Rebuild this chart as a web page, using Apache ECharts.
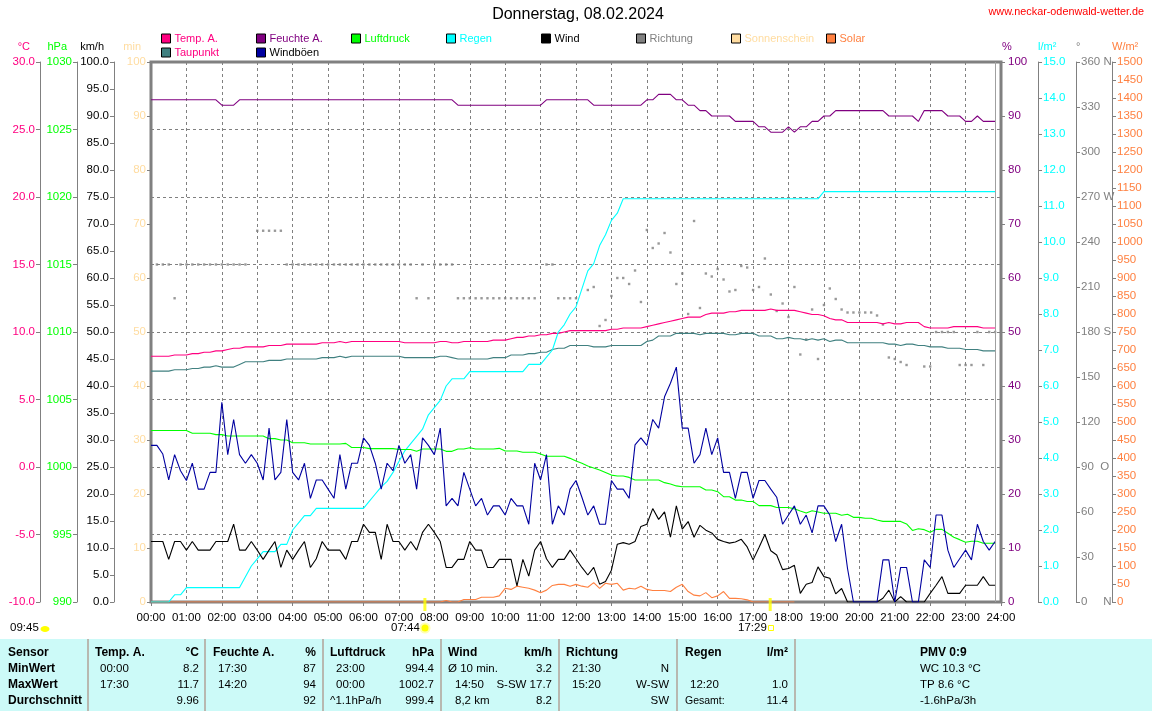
<!DOCTYPE html>
<html><head><meta charset="utf-8">
<style>html,body{margin:0;padding:0;background:#fff}#c{width:1152px;height:711px}</style>
<script src="https://cdn.jsdelivr.net/npm/echarts@6/dist/echarts.min.js"></script>
</head><body><div id="c"></div>
<script>
// ten-minute samples 00:00 .. 23:50
const humidity = [93,93,93,93,93,93,93,93,93,93, 93,93,92,92,92,93,93,93,93,93, 93,93,93,93,93,93,93,93,93,93, 93,93,93,93,93,93,93,93,93,93, 93,93,93,93,93,93,93,93,93,93, 93,93,92,92,92,92,92,92,92,92, 92,92,92,92,92,92,92,93,93,93, 93,93,93,93,93,92,92,92,92,92, 92,92,92,92,93,93,94,94,94,93, 93,92,92,91,91,90,90,90,90,89, 89,89,89,88,88,87,87,87,88,87, 88,88,89,89,90,90,91,91,91,91, 91,91,91,91,91,90,90,90,90,90, 89,91,91,91,91,90,90,90,89,89, 90,89,89,89];
const tempOut = [8.2,8.2,8.2,8.2,8.3,8.3,8.3,8.4,8.4,8.5, 8.5,8.6,8.6,8.7,8.8,8.8,8.9,8.9,8.9,8.9, 9,9,9,9.1,9.1,9.1,9.1,9.1,9.1,9.2, 9.2,9.2,9.3,9.2,9.3,9.3,9.3,9.3,9.3,9.3, 9.3,9.3,9.3,9.2,9.2,9.2,9.2,9.2,9.2,9.3, 9.3,9.2,9.2,9.3,9.3,9.3,9.3,9.3,9.4,9.4, 9.4,9.5,9.6,9.6,9.7,9.7,9.8,9.8,9.9,9.9, 10,10.1,10.1,10.1,10.1,10.1,10.1,10.1,10.2,10.2, 10.3,10.3,10.3,10.3,10.4,10.5,10.6,10.7,10.8,10.9, 11,11.1,11.1,11.1,11.3,11.4,11.4,11.4,11.5,11.5, 11.6,11.6,11.6,11.6,11.6,11.7,11.6,11.6,11.6,11.6, 11.5,11.4,11.3,11.3,11.2,11,10.9,10.9,10.7,10.7, 10.7,10.7,10.7,10.7,10.6,10.7,10.6,10.6,10.7,10.7, 10.7,10.4,10.3,10.3,10.3,10.3,10.4,10.4,10.4,10.4, 10.4,10.3,10.3,10.3];
const dewPoint = [7.1,7.1,7.1,7.1,7.2,7.2,7.2,7.3,7.3,7.4, 7.4,7.5,7.4,7.4,7.4,7.6,7.8,7.8,7.8,7.8, 7.9,7.9,7.9,8,8,8,8,8,8,8.1, 8.1,8.1,8.2,8.1,8.2,8.2,8.2,8.2,8.2,8.2, 8.2,8.2,8.2,8.1,8.1,8.1,8.1,8.1,8.1,8.2, 8.2,8.1,8,8,8,8,8,8,8.1,8.1, 8.1,8.3,8.3,8.3,8.4,8.4,8.5,8.5,8.7,8.8, 8.8,9,9,9,9,8.9,8.9,8.9,9,9, 9,9,9,9,9.3,9.4,9.7,9.7,9.7,9.9, 9.9,9.9,9.9,9.8,9.9,9.9,9.9,9.9,9.8,9.8, 9.9,9.9,9.9,9.7,9.7,9.7,9.5,9.5,9.6,9.5, 9.5,9.4,9.5,9.4,9.5,9.3,9.4,9.4,9.2,9.2, 9.2,9.2,9.2,9.2,9.2,9.1,9.1,9,9.1,9.1, 9,9,8.9,8.9,8.9,8.8,8.8,8.8,8.7,8.7, 8.7,8.6,8.6,8.6];
const pressure = [1002.7,1002.7,1002.7,1002.7,1002.7,1002.7,1002.7,1002.5,1002.5,1002.5, 1002.5,1002.4,1002.4,1002.3,1002.3,1002.3,1002.3,1002.3,1002.3,1002.3, 1002.1,1002.1,1002,1002,1001.8,1001.8,1001.8,1001.7,1001.7,1001.7, 1001.7,1001.7,1001.7,1001.75,1001.45,1001.45,1001.45,1001.36,1001.36,1001.36, 1001.36,1001.36,1001.3,1001.3,1001.3,1001.16,1001.33,1001.33,1001.33,1001.33, 1001.16,1001.16,1001.33,1001.33,1001.43,1001.33,1001.33,1001.33,1001.33,1001.38, 1001.18,1001.18,1001.18,1001.09,1001.09,1001.09,1000.96,1000.8,1000.8,1000.8, 1000.8,1000.64,1000.44,1000.27,1000.07,999.93,999.78,999.6,999.4,999.33, 999.33,999.23,999.04,999.04,999.04,999.04,999.04,998.84,998.74,998.6, 998.54,998.54,998.54,998.54,998.3,998.3,998.17,997.8,997.8,997.55, 997.55,997.45,997.45,997.14,997.14,997.14,997,997,997,996.9, 996.74,996.6,996.76,996.67,996.57,996.57,996.57,996.42,996.5,996.27, 996.27,996.2,996.2,996.07,995.97,995.97,995.97,995.97,995.78,995.3, 995.43,995.36,995.16,995.38,995.38,995.09,994.8,994.62,994.42,994.5, 994.5,994.35,994.35,994.35];
const rain = [0,0,0,0,0.2,0.2,0.4,0.4,0.4,0.4, 0.4,0.4,0.4,0.4,0.4,0.4,0.7,1,1.2,1.4, 1.4,1.4,1.6,1.6,2,2.2,2.4,2.4,2.6,2.6, 2.6,2.6,2.6,2.6,2.6,2.6,2.6,2.8,3,3.2, 3.35,3.6,3.9,4.2,4.4,4.6,4.8,5.2,5.4,5.6, 6,6.2,6.2,6.2,6.4,6.4,6.4,6.4,6.4,6.4, 6.4,6.4,6.4,6.4,6.6,6.6,6.6,6.8,7,7.5, 7.7,8,8.2,8.7,9.2,9.4,9.9,10.2,10.6,10.8, 11.2,11.2,11.2,11.2,11.2,11.2,11.2,11.2,11.2,11.2, 11.2,11.2,11.2,11.2,11.2,11.2,11.2,11.2,11.2,11.2, 11.2,11.2,11.2,11.2,11.2,11.2,11.2,11.2,11.2,11.2, 11.2,11.2,11.2,11.2,11.4,11.4,11.4,11.4,11.4,11.4, 11.4,11.4,11.4,11.4,11.4,11.4,11.4,11.4,11.4,11.4, 11.4,11.4,11.4,11.4,11.4,11.4,11.4,11.4,11.4,11.4, 11.4,11.4,11.4,11.4];
const wind = [11.2,11.2,11.2,7.9,11.2,11.2,9.6,11.2,9.6,9.6, 9.6,11.2,11.2,11.2,14.4,9.6,9.6,11.2,9.6,7.9, 9.6,11.2,6.4,9.6,7.9,9.6,11.2,6.4,8,11.2, 9.6,9.6,9.6,7.9,11.2,11.2,14.4,12.9,12.9,7.9, 14.4,11.2,11.2,9.6,11.2,9.6,12.9,14.4,12.9,11.2, 6.4,6.4,7.9,7.9,11.2,9.6,9.6,6.4,6.4,7.9, 7.9,7.9,3,7.9,4.8,9.6,11.2,8,6.4,7.9, 7.9,9.6,8,6.4,5,6.4,3.3,3.8,5.9,10.7, 11,10.7,11.2,14,14.4,17.3,15.3,16.7,12,17.8, 13.5,14.9,12,14.2,13.3,12.8,11.6,11.2,10.9,11.1, 11.6,10.2,7.8,10.1,12.5,9.5,8.7,6,6.2,6.8, 1.6,3.3,3.6,6.5,4.7,4.4,1.5,2.5,0,0, 0,0,0,0,0.7,2.2,0,1,0,0, 0,0,1.6,3.1,4.7,1.6,1.6,1.6,3.1,3.1, 3.1,4.7,3.1,3.1];
const gusts = [29,29,27.4,22.6,27.3,24.3,22.5,25.7,20.9,20.9, 24,24,37,27.3,33.8,27.3,25.7,27.3,25.7,22.6, 32.2,22.6,24,33.8,24,22.6,25.7,19.2,22.6,22.6, 20.9,19.2,27.3,20.9,25.7,25.7,30.4,29,25.7,20.9, 25.7,24.3,29,25.7,27.3,20.9,30.4,29,27.3,32.2, 17.8,19.2,17.8,24,20.9,17.8,19.2,16.1,17.8,17.8, 16.1,19.2,17.8,17.8,14.4,25.7,22.6,27.3,14.4,17.8, 16.1,20.9,22.5,19.4,16.1,17.8,14.4,14.4,22.5,20.9, 20.9,19.2,29.1,30.4,29,33.8,32.2,38,40.5,43.5, 32.2,32.2,25.7,27.3,32.2,27.3,30.4,24,24,19.2, 24,24,19.2,22.5,22.5,20.9,19.4,14.4,16.1,17.8, 14.4,16.1,12.8,17.8,17.8,16.1,11.2,14.4,6.2,0, 0,0,0,0,7.8,7.8,0,6.4,6.4,0, 0,7.8,6.4,16.1,16.1,9.6,6.4,8,9.6,7.8, 14.4,11.2,9.6,11.2];
const direction = [null,225,225,225,202.5,225,225,225,225,225, 225,225,225,225,225,225,225,null,247.5,247.5, 247.5,247.5,247.5,225,225,225,225,225,225,225, 225,225,225,225,225,225,225,225,225,225, 225,225,225,225,225,202.5,225,202.5,225,225, 225,225,202.5,202.5,202.5,202.5,202.5,202.5,202.5,202.5, 202.5,202.5,202.5,202.5,202.5,202.5,null,225,225,202.5, 202.5,202.5,202.5,null,208,210,184,188,204,216, 216,212,221,200,248,236,239,246,233,212, 219,192,254,196,219,217,222,215,207,208, 224,223,208,210,229,205,194,199,190,210, 165,175,195,162,198,209,202,195,193,193, 193,193,193,191,185,163,162,160,158,null, null,157,157,180,180,180,180,158,158,158, 180,158,180,180];
const solar = [0,0,0,0,0,0,0,0,0,0, 0,0,0,0,0,0,0,0,0,0, 0,0,0,0,0,0,0,0,0,0, 0,0,0,0,0,0,0,0,0,0, 0,0,0,0,0,0,0,0,0,0, 4,0,0,7,7,7,13,13,13,17, 38,35,44,41,38,33,26,33,46,49, 49,44,49,44,41,54,38,52,49,52, 33,38,36,44,35,32,32,32,29,41, 49,29,19,17,26,12,17,29,10,10, 9,6,0,0,0,0,0,0,0,0];
const sunshine = [];
const sunTimes = [464, 1049];

const titleText = 'Donnerstag, 08.02.2024';
const siteText = 'www.neckar-odenwald-wetter.de';

const tableFirst = ['Sensor','MinWert','MaxWert','Durchschnitt'];
const tableHeads = ['Temp. A.','Feuchte A.','Luftdruck','Wind','Richtung','Regen'];
const tableUnits = ['°C','%','hPa','km/h','','l/m²'];
const tableLefts = [['00:00','17:30',''],['17:30','14:20',''],['23:00','00:00','^1.1hPa/h'],['Ø 10 min.','14:50','8,2 km'],['21:30','15:20',''],['','12:20','Gesamt:']];
const tableVals = [['8.2','11.7','9.96'],['87','94','92'],['994.4','1002.7','999.4'],['3.2','S-SW 17.7','8.2'],['N','W-SW','SW'],['','1.0','11.4']];
const tableLast = ['PMV 0:9','WC 10.3 °C','TP 8.6 °C','-1.6hPa/3h'];

const FONT = '"Liberation Sans", Arial, sans-serif';
const C = {temp:'#FF0080',dew:'#408080',hum:'#800080',pres:'#00FF00',rain:'#00FFFF',wind:'#000000',dir:'#808080',sun:'#FFDCA0',solar:'#FF8040',gust:'#0000A0'};
const AX = '#808080';

const pts = a => a.map((v,i)=>[i*10,v]);
const pad = n => String(n).padStart(2,'0');

function yAxis(o){
  return {
    type:'value', position:o.pos, offset:o.off, min:o.min, max:o.max, interval:o.step,
    name:o.name, nameLocation:'end', nameGap:15,
    nameTextStyle:{color:o.color,fontFamily:FONT,fontSize:11,align:o.pos==='left'?'right':'left',verticalAlign:'middle',padding:o.pos==='left'?[0,10,0,0]:[0,0,0,o.namePad||0]},
    axisLine:{show:true,onZero:false,lineStyle:{color:AX,width:1}},
    axisTick:{show:true,length:4,lineStyle:{color:AX}},
    axisLabel:{color:o.color,fontFamily:FONT,fontSize:11.5,margin:o.margin||5,formatter:o.fmt,hideOverlap:false,showMinLabel:true,showMaxLabel:true},
    splitLine:o.grid?{show:true,lineStyle:{color:AX,width:1,type:[3,3]}}:{show:false}
  };
}
const dirLabels = {0:'0     N',90:'90  O',180:'180 S',270:'270 W',360:'360 N'};

const yAxes = [
  yAxis({pos:'left',off:111,min:-10,max:30,step:5,name:'°C',color:C.temp,fmt:v=>v.toFixed(1),grid:true}),
  yAxis({pos:'left',off:74,min:990,max:1030,step:5,name:'hPa',color:C.pres,fmt:v=>String(v)}),
  yAxis({pos:'left',off:37,min:0,max:100,step:5,name:'km/h',color:'#000',fmt:v=>v.toFixed(1)}),
  yAxis({pos:'left',off:0,min:0,max:100,step:10,name:'min',color:C.sun,fmt:v=>String(v)}),
  yAxis({pos:'right',off:0,min:0,max:100,step:10,name:'%',color:C.hum,namePad:1,margin:7,fmt:v=>String(v)}),
  yAxis({pos:'right',off:37,min:0,max:15,step:1,name:'l/m²',color:C.rain,fmt:v=>v.toFixed(1)}),
  yAxis({pos:'right',off:75,min:0,max:360,step:30,name:'°',color:C.dir,fmt:v=>dirLabels[v]||String(v)}),
  yAxis({pos:'right',off:111,min:0,max:1500,step:50,name:'W/m²',color:C.solar,fmt:v=>String(v)})
];

function line(name,data,y,color,extra){
  return Object.assign({name,type:'line',yAxisIndex:y,data:pts(data),symbol:'none',showSymbol:false,silent:true,animation:false,connectNulls:false,
    lineStyle:{color,width:1.1},itemStyle:{color}},extra||{});
}

const series = [
  line('Sonnenschein',sunshine,3,C.sun),
  line('Solar',solar,7,C.solar),
  {name:'Richtung',type:'scatter',yAxisIndex:6,data:pts(direction).filter(p=>p[1]!==null),symbol:'rect',symbolSize:2.4,itemStyle:{color:C.dir},silent:true,animation:false},
  line('Temp. A.',tempOut,0,C.temp,{markLine:{silent:true,symbol:'none',animation:false,label:{show:false},lineStyle:{color:'#A0A0A0',width:1,type:'solid'},data:[{xAxis:1430}]}}),
  line('Taupunkt',dewPoint,0,C.dew),
  line('Feuchte A.',humidity,4,C.hum),
  line('Regen',rain,5,C.rain),
  line('Luftdruck',pressure,1,C.pres),
  line('Wind',wind,2,C.wind),
  line('Windböen',gusts,2,C.gust),
  {name:'Sonne',type:'scatter',yAxisIndex:2,data:sunTimes.map(t=>[t,0]),symbol:'rect',symbolSize:[3,13],symbolOffset:[0,2.5],clip:false,z:20,itemStyle:{color:'#FFFF00'},silent:true,animation:false}
];

const legendItems = [
  ['Temp. A.',161,33,C.temp,C.temp],['Taupunkt',161,47,C.dew,C.temp],
  ['Feuchte A.',256,33,C.hum,C.hum],['Windböen',256,47,C.gust,'#000'],
  ['Luftdruck',351,33,C.pres,C.pres],['Regen',446,33,C.rain,C.rain],
  ['Wind',541,33,C.wind,'#000'],['Richtung',636,33,C.dir,C.dir],
  ['Sonnenschein',731,33,C.sun,C.sun],['Solar',826,33,C.solar,C.solar]
];
const legends = legendItems.map(l=>({
  show:true,orient:'horizontal',left:l[1],top:l[2],padding:0,selectedMode:false,itemGap:0,itemWidth:9,itemHeight:9,
  textStyle:{color:l[4],fontFamily:FONT,fontSize:11,padding:[0,0,0,-1]},
  icon:'rect',
  data:[{name:l[0],icon:'rect',itemStyle:{color:l[3],borderColor:'#000',borderWidth:1,opacity:1},lineStyle:{width:0,opacity:0}}]
}));

function txt(text,x,y,o){
  o=o||{};
  return {type:'text',x,y,silent:true,z:o.z||5,style:{text,fill:o.fill||'#000',font:(o.bold?'bold ':'')+(o.size||11.5)+'px '+FONT,align:o.align||'left',verticalAlign:'middle'}};
}
const g = [];
g.push({type:'rect',silent:true,z:1,shape:{x:0,y:639,width:1152,height:72},style:{fill:'#CCFAF8'}});
[88,205,323,441,559,677,795].forEach(x=>g.push({type:'rect',silent:true,z:2,shape:{x:x-1,y:639,width:2,height:72},style:{fill:'#B8B8B0'}}));
const rowY = [653,669,685,701];
tableFirst.forEach((t,i)=>g.push(txt(t,8,rowY[i],{bold:true,size:12})));
const headX  = [95,213,330,448,566,685];
const rightX = [199,316,434,552,669,788];
const leftX  = [[100,100,100],[218,218,218],[336,336,330],[448,455,455],[572,572,572],[690,690,685]];
tableHeads.forEach((h,c)=>{
  g.push(txt(h,headX[c],rowY[0],{bold:true,size:12}));
  if(tableUnits[c]) g.push(txt(tableUnits[c],rightX[c],rowY[0],{bold:true,size:12,align:'right'}));
  tableLefts[c].forEach((t,r)=>{ if(t) g.push(txt(t,leftX[c][r],rowY[r+1],{size:t==='Gesamt:'?10.5:11.5})); });
  tableVals[c].forEach((t,r)=>{ if(t) g.push(txt(t,rightX[c],rowY[r+1],{align:'right'})); });
});
tableLast.forEach((t,i)=>g.push(txt(t,920,rowY[i],{bold:i===0,size:i===0?12:11.5})));

g.push(txt(titleText,578,15,{size:16,align:'center'}));
g.push(txt(siteText,1144,12,{size:10.8,align:'right',fill:'#FF0000'}));
g.push(txt('09:45',10,628));
g.push(txt('07:44',391,628));
g.push(txt('17:29',738,628));
g.push({type:'ellipse',silent:true,z:5,shape:{cx:45,cy:629,rx:4.5,ry:3},style:{fill:'#FFFF00'}});
g.push({type:'circle',silent:true,z:5,shape:{cx:425,cy:628,r:5.5},style:{fill:'#FFFFB0'}});
g.push({type:'circle',silent:true,z:6,shape:{cx:425,cy:628,r:3.5},style:{fill:'#FFFF00'}});
g.push({type:'rect',silent:true,z:5,shape:{x:768.5,y:625.5,width:5,height:5},style:{fill:'#FFFFFF',stroke:'#FFFF00',lineWidth:1}});

const chart = echarts.init(document.getElementById('c'),null,{renderer:'canvas'});
chart.setOption({
  animation:false,
  backgroundColor:'#fff',
  textStyle:{fontFamily:FONT},
  legend:legends,
  grid:{left:151,right:151,top:62,bottom:109,show:true,borderColor:AX,borderWidth:3,backgroundColor:'transparent',containLabel:false},
  xAxis:{type:'value',min:0,max:1440,interval:60,
    axisLine:{show:true,onZero:false,lineStyle:{color:AX,width:1}},
    axisTick:{show:true,length:4,lineStyle:{color:AX}},
    axisLabel:{color:'#000',fontFamily:FONT,fontSize:11.5,margin:10,hideOverlap:false,showMinLabel:true,showMaxLabel:true,formatter:v=>pad(v/60)+':00'},
    splitLine:{show:true,lineStyle:{color:AX,width:1,type:[3,3]}}},
  yAxis:yAxes,
  series,
  graphic:{elements:g},
  tooltip:{show:false}
});
</script></body></html>
